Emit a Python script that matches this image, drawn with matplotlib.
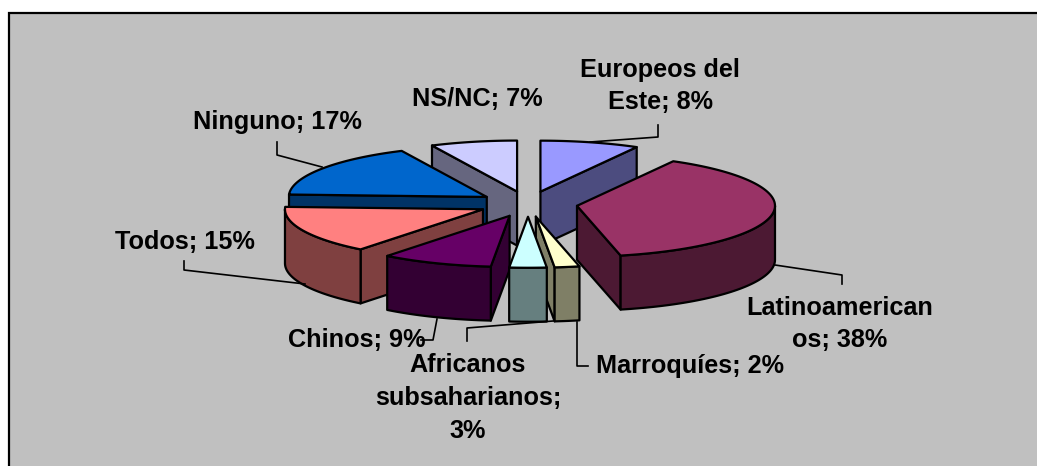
import matplotlib
matplotlib.use('Agg')
import matplotlib.pyplot as plt
from matplotlib.patches import Polygon
import numpy as np

plt.rcParams['font.family'] = ['Liberation Sans', 'DejaVu Sans']

categories = ['Europeos del Este', 'Latinoamericanos', 'Marroquíes', 'Africanos subsaharianos',
              'Chinos', 'Todos', 'Ninguno', 'NS/NC']
values = [8, 38, 2, 3, 9, 15, 17, 7]
top_colors = ['#9999FF', '#993366', '#FFFFCC', '#CCFFFF', '#660066', '#FF8080', '#0066CC', '#CCCCFF']
side_colors = ['#4C4C7F', '#4C1933', '#7F7F66', '#667F7F', '#330033', '#7F4040', '#003366', '#66667F']
labels = ['Europeos del\nEste; 8%', 'Latinoamerican\nos; 38%', 'Marroquíes; 2%',
          'Africanos\nsubsaharianos;\n3%', 'Chinos; 9%', 'Todos; 15%', 'Ninguno; 17%', 'NS/NC; 7%']
label_pos = [(660, 86), (840, 324), (690, 366), (468, 398), (357, 340), (185, 242), (277, 122), (477, 99)]
leaders = [[(590, 142), (658, 137), (658, 125)],
           [(775, 265), (842, 275), (842, 284)],
           [(577, 322), (577, 366), (588, 366)],
           [(553, 321), (467, 328), (467, 341)],
           [(437, 319), (433, 340), (421, 340)],
           [(305, 284), (184, 270), (184, 261)],
           [(322, 167), (277, 155), (277, 142)]]

cx, cy = 528, 204
a, b = 198, 51
depth = 54
explode = 0.25

fig = plt.figure(figsize=(10.37, 4.66), dpi=100)
ax = fig.add_axes([0, 0, 1, 1])
ax.set_xlim(0, 1037)
ax.set_ylim(466, 0)
ax.axis('off')

# frame runs off the right and bottom of the picture
ax.add_patch(plt.Rectangle((9, 13), 1050, 470, fc='#C0C0C0', ec='black', lw=1.6, zorder=0))


def pt(ox, oy, deg, dz=0):
    t = np.radians(deg)
    return ox + a * np.sin(t), oy - b * np.cos(t) + dz


def arc(ox, oy, t1, t2, dz=0):
    ts = np.linspace(t1, t2, max(int(abs(t2 - t1)) + 2, 3))
    xs, ys = pt(ox, oy, ts, dz)
    return list(zip(xs, ys))


vals = np.array(values, dtype=float)
edges = np.concatenate([[0], np.cumsum(vals) / vals.sum() * 360])
mids = (edges[:-1] + edges[1:]) / 2
lw = 1.6
z = 1

# back slices first
for i in np.argsort(-np.cos(np.radians(mids))):
    t1, t2 = edges[i], edges[i + 1]
    m = np.radians(mids[i])
    ox = cx + explode * a * np.sin(m)
    oy = cy - explode * b * np.cos(m)
    apex = (ox, oy)
    faces = []
    for t, show in ((t1, np.sin(np.radians(t1)) < 0), (t2, np.sin(np.radians(t2)) > 0)):
        if show:
            p = pt(ox, oy, t)
            faces.append(([apex, p, (p[0], p[1] + depth), (ox, oy + depth)], side_colors[i]))
    r1, r2 = max(t1, 90), min(t2, 270)
    if r2 > r1:
        faces.append((arc(ox, oy, r1, r2) + arc(ox, oy, r1, r2, depth)[::-1], side_colors[i]))
    faces.append(([apex] + arc(ox, oy, t1, t2), top_colors[i]))
    for verts, col in faces:
        ax.add_patch(Polygon(verts, closed=True, fc=col, ec='black', lw=lw, joinstyle='round', zorder=z))
        z += 1

for line in leaders:
    xs, ys = zip(*line)
    ax.plot(xs, ys, color='black', lw=1.2, zorder=z)

for lab, (x, y) in zip(labels, label_pos):
    ax.text(x, y, lab, ha='center', va='center', fontsize=18.2, fontweight='bold', color='black',
            linespacing=1.45, zorder=z + 1)

fig.savefig('out.png', dpi=100, facecolor='white')
